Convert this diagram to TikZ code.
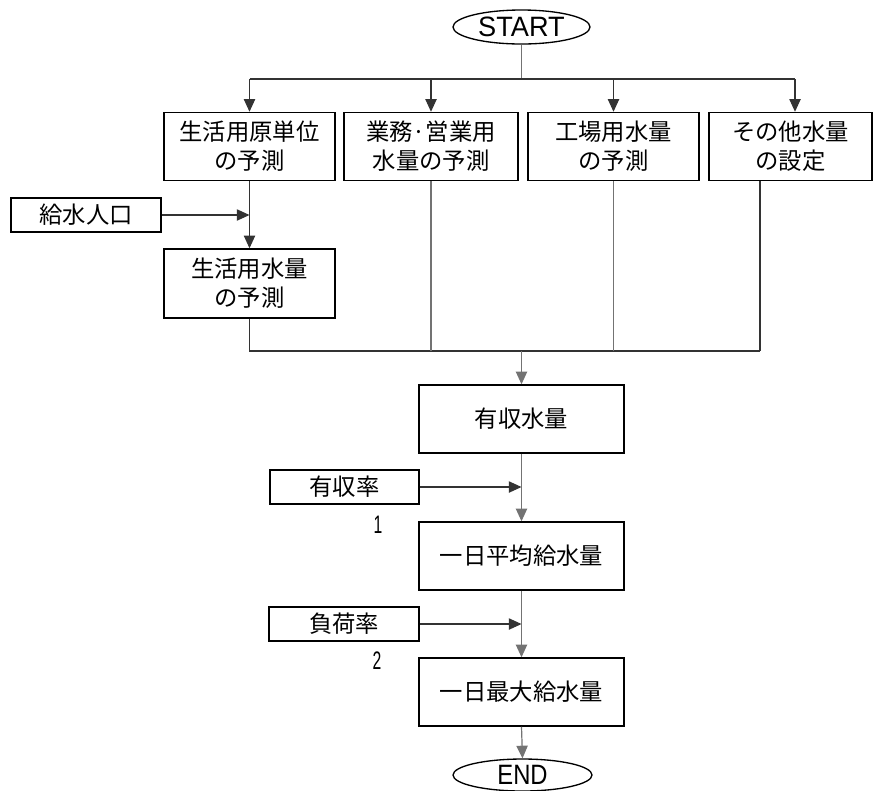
\documentclass[tikz,border=0pt]{standalone}
\usepackage{graphicx}
\usepackage{fontspec}
\setmainfont{Noto Sans CJK JP}
\newfontfamily\latinfont{Liberation Sans}
\usetikzlibrary{arrows.meta,shapes.geometric}
\tikzset{
  box/.style={draw=black,line width=1.1pt,inner sep=0pt,align=center,
    font=\fontsize{17.5pt}{21.75pt}\selectfont},
  term/.style={draw=black,line width=1pt,ellipse,inner sep=0pt,
    font=\latinfont\fontsize{21pt}{22pt}\selectfont},
  conn/.style={draw=black!80,line width=0.8pt},
  gconn/.style={draw=black!55,line width=0.9pt},
  arr/.style={conn,-{Triangle[length=9.5pt,width=8.5pt]}},
  garr/.style={gconn,-{Triangle[length=9.5pt,width=8.5pt]}},
  numlab/.style={inner sep=0pt,font=\latinfont\fontsize{19pt}{20pt}\selectfont}
}
\begin{document}
\begin{tikzpicture}[x=0.75pt,y=-0.75pt]
\useasboundingbox (0,0) rectangle (873,790);
% terminals
\node[term,minimum width=102.75pt,minimum height=25.5pt] (start) at (521.5,27) {\scalebox{0.97}[1]{START}};
\node[term,minimum width=104.25pt,minimum height=24pt] (end) at (522.5,775) {\scalebox{0.85}[1]{END}};
% top row
\node[box,minimum width=128.25pt,minimum height=51pt] (b1) at (249.5,146.5) {生活用原単位\\の予測};
\node[box,minimum width=130.5pt,minimum height=51pt] (b2) at (431,146.5) {業務·営業用\\水量の予測};
\node[box,minimum width=128.25pt,minimum height=51pt] (b3) at (613.5,146.5) {工場用水量\\の予測};
\node[box,minimum width=122.25pt,minimum height=51pt] (b4) at (790.5,146.5) {その他水量\\の設定};
% left chain
\node[box,minimum width=112.5pt,minimum height=25.5pt] (pop) at (86,215) {給水人口};
\node[box,minimum width=128.25pt,minimum height=51.75pt] (g) at (249.5,283.5) {生活用水量\\の予測};
% centre chain
\node[box,minimum width=153.75pt,minimum height=51pt] (yusho) at (521.5,419) {有収水量};
\node[box,minimum width=111.75pt,minimum height=25.5pt] (r1) at (344.5,487) {有収率};
\node[numlab] (n1) at (378,525) {\scalebox{0.62}[1]{1}};
\node[box,minimum width=153.75pt,minimum height=51pt] (heikin) at (521.5,556) {一日平均給水量};
\node[box,minimum width=112.5pt,minimum height=25.5pt] (r2) at (344,624) {負荷率};
\node[numlab] (n2) at (377,661) {\scalebox{0.62}[1]{2}};
\node[box,minimum width=153.75pt,minimum height=51pt] (saidai) at (521.5,692) {一日最大給水量};
% junction coordinates
\coordinate (top) at (521.5,79);
\coordinate (t1) at (249.5,79);
\coordinate (t4) at (795,79);
\coordinate (j1) at (249.5,351);
\coordinate (j4) at (760,351);
% top distribution
\draw[gconn] (start.south) -- (top);
\draw[conn] (t1) -- (t4);
\draw[arr] (t1) -- (b1.north);
\draw[arr] (b2.north |- top) -- (b2.north);
\draw[arr] (b3.north |- top) -- (b3.north);
\draw[arr] (t4) -- (t4 |- b4.north);
% left chain
\draw[arr] (b1.south) -- (g.north);
\draw[arr] (pop.east) -- (pop.east -| b1.south);
% collection
\draw[conn] (g.south) -- (j1) -- (j4);
\draw[gconn] (b2.south) -- (b2.south |- j1);
\draw[gconn] (b3.south) -- (b3.south |- j1);
\draw[conn] (j4 |- b4.south) -- (j4);
\draw[garr] (yusho.north |- j1) -- (yusho.north);
% centre chain
\draw[garr] (yusho.south) -- (heikin.north);
\draw[arr] (r1.east) -- (r1.east -| yusho.south);
\draw[garr] (heikin.south) -- (saidai.north);
\draw[arr] (r2.east) -- (r2.east -| heikin.south);
\draw[garr] (saidai.south) -- (end.north);
\end{tikzpicture}
\end{document}
